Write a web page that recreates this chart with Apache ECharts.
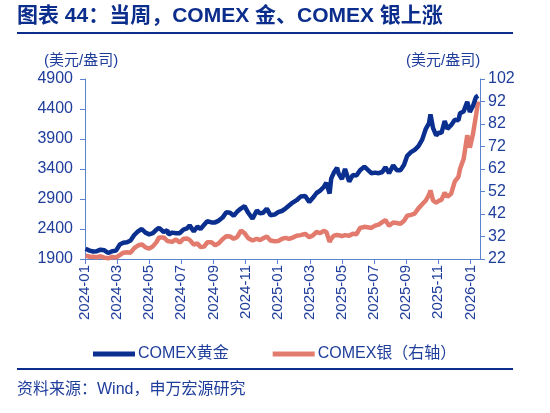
<!DOCTYPE html>
<html><head><meta charset="utf-8">
<script src="https://cdn.jsdelivr.net/npm/echarts@6/dist/echarts.min.js"></script>
<style>html,body{margin:0;padding:0;background:#fff}#c{width:550px;height:413px}</style>
</head><body><div id="c"></div>
<script>
const dates = ['2024-01-02','2024-01-10','2024-01-17','2024-01-24','2024-01-31','2024-02-07','2024-02-14','2024-02-21','2024-02-28','2024-03-06','2024-03-13','2024-03-20','2024-03-27','2024-04-03','2024-04-10','2024-04-17','2024-04-24','2024-05-01','2024-05-08','2024-05-15','2024-05-20','2024-05-29','2024-06-05','2024-06-07','2024-06-14','2024-06-21','2024-06-28','2024-07-05','2024-07-12','2024-07-17','2024-07-25','2024-08-01','2024-08-07','2024-08-14','2024-08-20','2024-08-28','2024-09-04','2024-09-11','2024-09-18','2024-09-25','2024-10-02','2024-10-09','2024-10-16','2024-10-23','2024-10-30','2024-11-06','2024-11-14','2024-11-22','2024-11-28','2024-12-04','2024-12-11','2024-12-18','2024-12-26','2025-01-02','2025-01-09','2025-01-16','2025-01-23','2025-01-30','2025-02-06','2025-02-13','2025-02-21','2025-02-28','2025-03-07','2025-03-14','2025-03-21','2025-03-28','2025-04-02','2025-04-08','2025-04-11','2025-04-16','2025-04-22','2025-04-25','2025-05-01','2025-05-07','2025-05-15','2025-05-22','2025-05-29','2025-06-05','2025-06-13','2025-06-19','2025-06-26','2025-07-03','2025-07-10','2025-07-17','2025-07-23','2025-07-30','2025-08-07','2025-08-14','2025-08-21','2025-08-28','2025-09-03','2025-09-10','2025-09-17','2025-09-24','2025-10-01','2025-10-08','2025-10-14','2025-10-17','2025-10-22','2025-10-28','2025-11-03','2025-11-07','2025-11-13','2025-11-18','2025-11-25','2025-12-02','2025-12-09','2025-12-12','2025-12-19','2025-12-26','2025-12-31','2026-01-06','2026-01-12','2026-01-16'];
const goldPrice = [2070,2040,2025,2030,2055,2045,2000,2030,2040,2140,2170,2180,2210,2300,2360,2400,2340,2310,2330,2390,2420,2350,2380,2310,2340,2330,2330,2390,2410,2460,2360,2440,2400,2470,2530,2510,2510,2540,2590,2680,2670,2620,2690,2740,2780,2670,2570,2710,2660,2670,2740,2630,2640,2680,2700,2740,2790,2840,2880,2940,2950,2850,2920,3000,3040,3100,3170,2990,3240,3340,3420,3320,3230,3400,3190,3300,3290,3380,3440,3390,3330,3340,3330,3350,3430,3330,3460,3380,3380,3470,3620,3680,3720,3780,3890,4070,4160,4310,4080,3960,4010,4000,4200,4070,4130,4220,4210,4330,4360,4520,4350,4450,4600,4620];
const silverPrice = [23.5,23.0,23.0,22.8,23.2,22.6,22.3,22.9,22.6,23.7,24.8,25.0,24.8,26.8,28.0,28.5,27.2,26.6,27.6,29.5,31.6,31.6,30.0,29.2,29.6,30.7,29.3,31.0,31.1,30.5,28.4,28.9,27.3,27.5,29.4,29.5,28.1,29.0,30.8,32.1,32.0,31.0,31.8,34.6,33.5,31.2,30.2,31.0,30.4,31.2,32.0,30.2,29.9,30.0,30.9,31.4,30.9,31.5,32.3,32.6,33.2,31.7,32.5,34.0,33.5,34.5,34.0,29.6,31.0,32.4,32.7,33.3,32.2,32.6,32.3,33.2,33.0,35.8,36.3,36.1,35.8,36.8,37.3,38.4,39.3,36.8,38.2,38.0,37.6,39.0,41.2,41.6,42.2,44.5,46.3,48.0,50.5,52.5,48.0,47.0,48.0,48.3,51.5,49.6,51.0,56.5,58.5,62.0,66.5,77.0,71.5,77.5,86.0,92.0];
const xTickLabels = ['2024-01','2024-03','2024-05','2024-07','2024-09','2024-11','2025-01','2025-03','2025-05','2025-07','2025-09','2025-11','2026-01'];
const seriesNames = ['COMEX黄金','COMEX银（右轴）'];

function toMonthIndex(s){
  const p = s.split('-').map(Number);
  const dim = new Date(p[0], p[1], 0).getDate();
  return (p[0]-2024)*12 + (p[1]-1) + (p[2]-1)/dim;
}
const goldData = dates.map((d,i)=>[toMonthIndex(d), goldPrice[i]]);
const silverData = dates.map((d,i)=>[toMonthIndex(d), silverPrice[i]]);

const FONT = "'Liberation Sans', 'Noto Sans CJK SC', sans-serif";
const TXT = '#1f3d9b';
const AX = '#5b84d0';

const chart = echarts.init(document.getElementById('c'), null, {renderer:'canvas'});
chart.setOption({
  animation:false,
  textStyle:{fontFamily:FONT},
  grid:{left:85, right:70, top:79, bottom:154},
  xAxis:{
    type:'value', min:0, max:24.6, interval:2,
    splitLine:{show:false},
    axisLine:{lineStyle:{color:AX, width:1}},
    axisTick:{show:true, length:5, lineStyle:{color:AX}},
    axisLabel:{rotate:90, color:TXT, fontSize:15, fontFamily:FONT, margin:6, showMaxLabel:false,
      formatter:v=>xTickLabels[Math.round(v/2)] || ''}
  },
  yAxis:[
    {type:'value', min:1900, max:4900, interval:500, position:'left',
     splitLine:{show:false},
     axisLine:{show:true, lineStyle:{color:AX}},
     axisTick:{show:true, length:5, lineStyle:{color:AX}},
     axisLabel:{color:TXT, fontSize:16, fontFamily:FONT, margin:12, formatter:v=>String(v)}},
    {type:'value', min:22, max:102, interval:10, position:'right',
     splitLine:{show:false},
     axisLine:{show:true, lineStyle:{color:AX}},
     axisTick:{show:true, length:5, lineStyle:{color:AX}},
     axisLabel:{color:TXT, fontSize:16, fontFamily:FONT, margin:8, formatter:v=>String(v)}}
  ],
  legend:{
    left:88, top:341, itemWidth:42, itemHeight:5, itemGap:44, icon:'rect',
    textStyle:{color:TXT, fontSize:16, fontFamily:FONT, padding:[0,0,0,-2]},
    data:seriesNames
  },
  series:[
    {name:seriesNames[0], type:'line', yAxisIndex:0, data:goldData, showSymbol:false,
     lineStyle:{color:'#0a2f8f', width:4.5}, itemStyle:{color:'#0a2f8f'}, z:3},
    {name:seriesNames[1], type:'line', yAxisIndex:1, data:silverData, showSymbol:false,
     lineStyle:{color:'#e27b6d', width:4.5}, itemStyle:{color:'#e27b6d'}, z:2}
  ],
  graphic:[
    {type:'text', left:17, top:6, style:{text:'图表 44：当周，COMEX 金、COMEX 银上涨', fill:'#0b2d8c', font:"bold 21px 'Liberation Sans', 'Noto Sans CJK SC', sans-serif"}},
    {type:'rect', shape:{x:17, y:32, width:496, height:2}, style:{fill:'#0b2d8c'}},
    {type:'text', left:44, top:53, style:{text:'(美元/盎司)', fill:TXT, font:"15px 'Liberation Sans', 'Noto Sans CJK SC', sans-serif"}},
    {type:'text', left:406, top:53, style:{text:'(美元/盎司)', fill:TXT, font:"15px 'Liberation Sans', 'Noto Sans CJK SC', sans-serif"}},
    {type:'rect', shape:{x:17, y:368, width:496, height:2}, style:{fill:'#0b2d8c'}},
    {type:'text', left:17, top:382, style:{text:'资料来源：Wind，申万宏源研究', fill:TXT, font:"16px 'Liberation Sans', 'Noto Sans CJK SC', sans-serif"}}
  ]
});
</script>
</body></html>
